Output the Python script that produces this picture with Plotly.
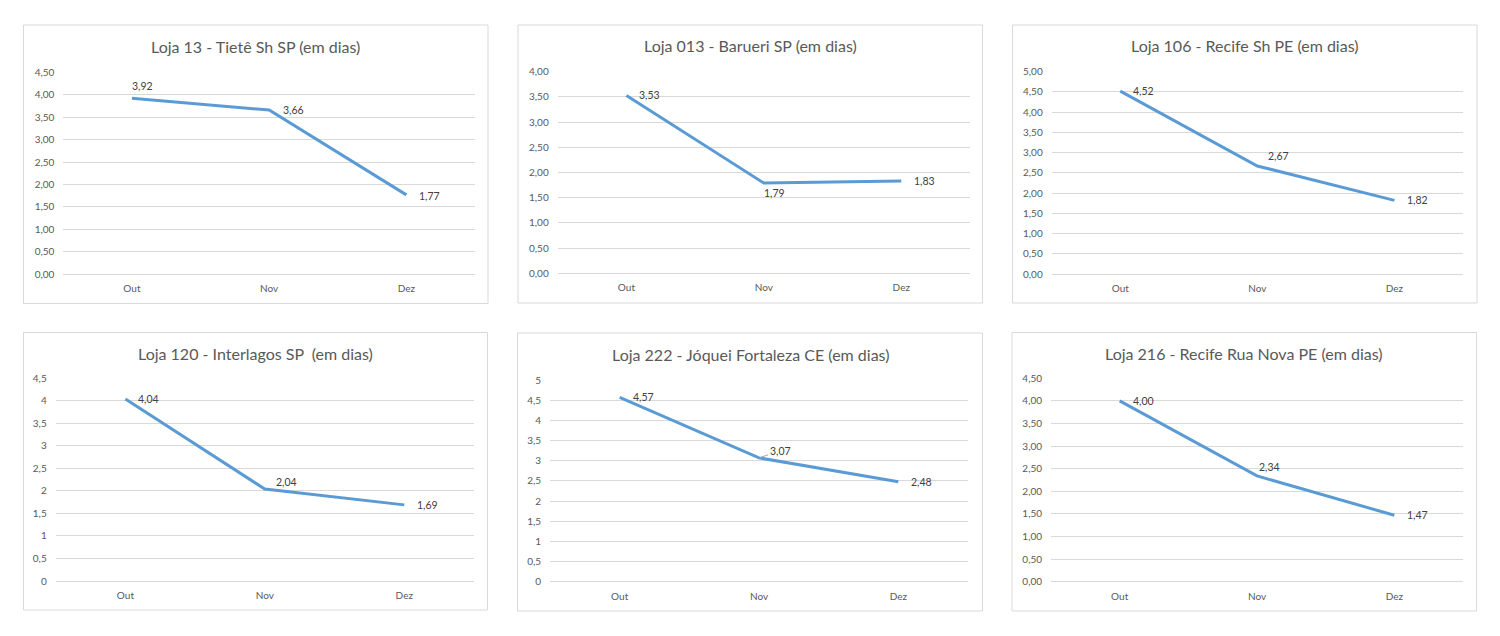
import plotly.graph_objects as go

W, H = 1500, 636

months = ["Out", "Nov", "Dez"]

titles = [
    "Loja 13 - Tietê Sh SP (em dias)",
    "Loja 013 - Barueri SP (em dias)",
    "Loja 106 - Recife Sh PE (em dias)",
    "Loja 120 - Interlagos SP  (em dias)",
    "Loja 222 - Jóquei Fortaleza CE (em dias)",
    "Loja 216 - Recife Rua Nova PE (em dias)",
]

loja13 = [3.92, 3.66, 1.77]
loja013 = [3.53, 1.79, 1.83]
loja106 = [4.52, 2.67, 1.82]
loja120 = [4.04, 2.04, 1.69]
loja222 = [4.57, 3.07, 2.48]
loja216 = [4.00, 2.34, 1.47]
series = [loja13, loja013, loja106, loja120, loja222, loja216]

y_max = [4.5, 4.0, 5.0, 4.5, 5.0, 4.5]
y_step = 0.5
y_tick_formats = [".2f", ".2f", ".2f", "", "", ".2f"]

# ---- layout (pixel geometry) ----
boxes = [
    (23.5, 25, 488, 303.5),
    (518, 25, 982.5, 303),
    (1012.5, 25, 1477, 303),
    (23.5, 332.5, 487.5, 610),
    (517.5, 333, 982.5, 611),
    (1012, 332.5, 1476.5, 611),
]
plots = [
    (63.3, 72.3, 475, 274.3),
    (557.7, 71.7, 970, 273.3),
    (1051.7, 71.7, 1463, 274),
    (55.7, 378.3, 474, 581),
    (550, 380, 968, 581.7),
    (1051, 378.3, 1463, 581.7),
]
title_y = [46.5, 46, 46, 353, 354, 353]
# data-label offsets in px (x gap from point to label's left edge, y shift up)
label_dx = [
    [-2, 12, 11],
    [11, -2, 11],
    [11, 9, 11],
    [11, 9, 11],
    [11, 11, 11],
    [11, 0, 11],
]
label_dy = [
    [12, 0, -1],
    [0, -10, 0],
    [0, 10, 0],
    [0, 7, 0],
    [0, 7, 0],
    [0, 9, 0],
]
# labels that Excel drew with a leader line: (panel, point)
leader = [(4, 1)]

LINE = "#5b9bd5"
GRID = "#d9d9d9"
TXT = "#595959"
FONT = "Lato, 'Open Sans', sans-serif"

fig = go.Figure()
shapes = []
annotations = []

for i in range(6):
    ax = "" if i == 0 else str(i + 1)
    x0, yt, x1, yb = plots[i]
    fig.add_trace(go.Scatter(
        x=months, y=series[i],
        mode="lines",
        line=dict(color=LINE, width=3),
        xaxis="x" + ax, yaxis="y" + ax,
        showlegend=False, hoverinfo="x+y", cliponaxis=False,
    ))
    for j, (m, v) in enumerate(zip(months, series[i])):
        txt = f"{v:.2f}".replace(".", ",")
        if (i, j) in leader:
            annotations.append(dict(
                x=m, y=v, xref="x" + ax, yref="y" + ax, text=txt,
                showarrow=True, arrowhead=0, arrowwidth=1, arrowcolor="#a6a6a6",
                ax=label_dx[i][j] + 10, ay=-label_dy[i][j], standoff=1,
                font=dict(family=FONT, size=10.5, color="#404040"),
            ))
            continue
        annotations.append(dict(
            x=m, y=v, xref="x" + ax, yref="y" + ax,
            text=txt,
            showarrow=False, xanchor="left", yanchor="middle",
            xshift=label_dx[i][j], yshift=label_dy[i][j],
            font=dict(family=FONT, size=10.5, color="#404040"),
        ))
    fig.layout["xaxis" + ax] = dict(
        domain=[x0 / W, x1 / W], anchor="y" + ax,
        type="category", range=[-0.5, 2.5], automargin=False,
        showgrid=False, zeroline=False, showline=False,
        tickfont=dict(family=FONT, size=10, color=TXT),
        ticklabelstandoff=7, fixedrange=True,
    )
    fig.layout["yaxis" + ax] = dict(
        domain=[1 - yb / H, 1 - yt / H], anchor="x" + ax,
        range=[0, y_max[i]], dtick=y_step, tick0=0, automargin=False,
        tickformat=y_tick_formats[i],
        showgrid=True, gridcolor=GRID, gridwidth=1,
        zeroline=True, zerolinecolor=GRID, zerolinewidth=1,
        showline=False,
        tickfont=dict(family=FONT, size=10, color=TXT),
        ticklabelstandoff=8, fixedrange=True,
    )
    bl, bt, br, bb = boxes[i]
    shapes.append(dict(type="rect", xref="paper", yref="paper",
                       x0=bl / W, x1=br / W, y0=1 - bb / H, y1=1 - bt / H,
                       line=dict(color=GRID, width=1), fillcolor="rgba(0,0,0,0)",
                       layer="below"))
    annotations.append(dict(
        text=titles[i], xref="paper", yref="paper",
        x=(bl + br) / 2 / W, y=1 - title_y[i] / H,
        xanchor="center", yanchor="middle", showarrow=False,
        font=dict(family=FONT, size=16, color=TXT),
    ))

fig.update_layout(
    width=W, height=H,
    margin=dict(l=0, r=0, t=0, b=0, autoexpand=False),
    paper_bgcolor="white", plot_bgcolor="white",
    separators=",.",
    shapes=shapes, annotations=annotations,
)

fig.write_html("out.html", config={"displayModeBar": False},
               post_script="document.body.style.margin='0px';")
